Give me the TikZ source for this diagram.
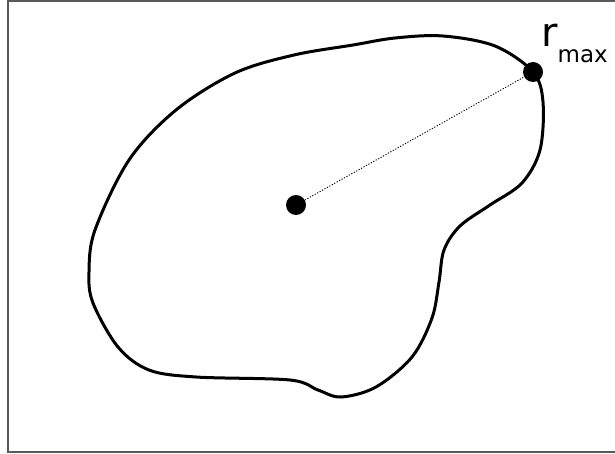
\documentclass[tikz,border=0pt]{standalone}
\usepackage{fontspec}
\setmainfont{DejaVu Sans}
\usetikzlibrary{positioning}

\tikzset{
  blob/.style={line width=3pt, line join=round},
  dot/.style={circle, fill=black, inner sep=0pt, minimum size=20pt},
  frame/.style={draw=black!65, line width=1.4pt}
}

\begin{document}
\begin{tikzpicture}[x=1pt, y=-1pt]
  \useasboundingbox (0,0) rectangle (615,454);
  \draw[frame] (622,1) -- (8,1) -- (8,452) -- (622,452);
  % outline of the region
  \draw[blob] plot[smooth cycle, tension=0.55] coordinates {
    (533,72) (543,102) (540,150) (522,183) (490,205) (460,226)
    (444,250) (439,282) (432,318) (412,357) (376,387) (341,397)
    (318,390) (290,380) (196,377) (149,370) (118,347) (93,303)
    (89,272) (95,230) (129,160) (176,110) (235,73) (294,55)
    (353,45) (395,38) (443,36) (495,46)};
  \node[dot] (c) at (296,205) {};
  \node[dot] (rmax) at (533,72) {};
  \draw[line width=0.9pt, dash pattern=on 1.2pt off 1.6pt] (c) -- (rmax);
  \node[anchor=base west, inner sep=0pt] (lbl) at (541,47)
    {\fontsize{40}{40}\selectfont r\raisebox{-16pt}{\fontsize{23}{23}\selectfont max}};
\end{tikzpicture}
\end{document}
